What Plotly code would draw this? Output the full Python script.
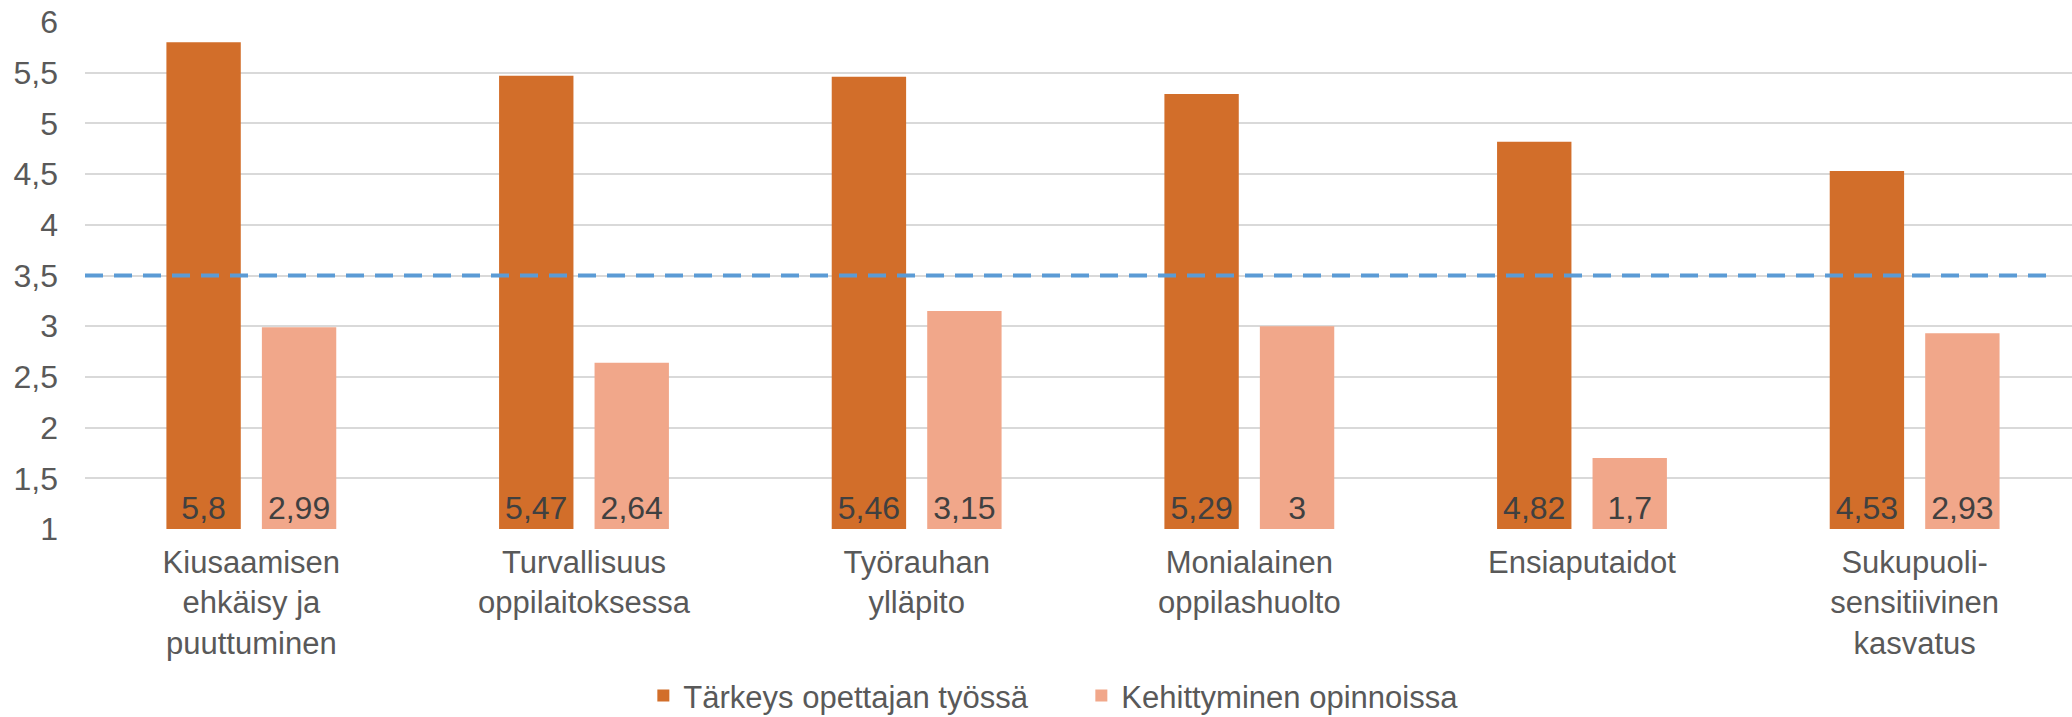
import plotly.graph_objects as go

categories = [
    "Kiusaamisen<br>ehkäisy ja<br>puuttuminen",
    "Turvallisuus<br>oppilaitoksessa",
    "Työrauhan<br>ylläpito",
    "Monialainen<br>oppilashuolto",
    "Ensiaputaidot",
    "Sukupuoli-<br>sensitiivinen<br>kasvatus",
]
series_names = ["Tärkeys opettajan työssä", "Kehittyminen opinnoissa"]
importance = [5.8, 5.47, 5.46, 5.29, 4.82, 4.53]
development = [2.99, 2.64, 3.15, 3.0, 1.7, 2.93]
threshold = 3.5
axis_min = 1
y_ticks = [1, 1.5, 2, 2.5, 3, 3.5, 4, 4.5, 5, 5.5, 6]

colors = ["#D26E2A", "#F1A78A"]
FONT = "Liberation Sans, Arial, sans-serif"


def fmt(v):
    return ("%g" % v).replace(".", ",")


fig = go.Figure()
for name, vals, col in zip(series_names, [importance, development], colors):
    fig.add_trace(go.Bar(
        x=categories,
        y=[v - axis_min for v in vals],
        base=axis_min,
        name=name,
        marker=dict(color=col, line=dict(width=0)),
        text=[fmt(v) for v in vals],
        textposition="inside",
        insidetextanchor="start",
        textangle=0,
        textfont=dict(family=FONT, size=32, color="#404040"),
        hovertext=[fmt(v) for v in vals],
        hoverinfo="text+name",
    ))

fig.add_shape(
    type="line", xref="paper", yref="y",
    x0=0, x1=0.992, y0=threshold, y1=threshold,
    line=dict(color="#5B9BD5", width=4, dash="18px,11px"),
    layer="above",
)

n = len(categories)
fig.update_layout(
    width=2072, height=717,
    margin=dict(l=85, r=0, t=22, b=188, autoexpand=False),
    paper_bgcolor="white", plot_bgcolor="white",
    barmode="group", bargap=0.426, bargroupgap=0.221,
    separators=", ",
    font=dict(family=FONT, size=31, color="#595959"),
    uniformtext=dict(minsize=30, mode="show"),
    showlegend=True,
    legend=dict(
        orientation="h", x=0.281, xanchor="left", y=-0.329, yanchor="middle",
        font=dict(family=FONT, size=31, color="#595959"),
        itemwidth=30, traceorder="normal",
        entrywidth=393, entrywidthmode="pixels",
    ),
    xaxis=dict(
        range=[-0.5, n - 0.5 - 0.027],
        showgrid=False, showline=False, zeroline=False,
        tickfont=dict(family=FONT, size=31, color="#595959"),
        ticks="", ticklabelstandoff=12,
    ),
    yaxis=dict(
        range=[1, 6], tickvals=y_ticks,
        ticktext=[fmt(t) for t in y_ticks],
        showgrid=True, gridcolor="#D9D9D9", gridwidth=2,
        zeroline=False, showline=False, ticks="",
        tickfont=dict(family=FONT, size=32, color="#595959"),
        ticklabelstandoff=26,
    ),
)

fig.write_html(
    "out.html",
    config={"displayModeBar": False},
    post_script="document.body.style.margin='0';document.body.style.overflow='hidden';",
)
